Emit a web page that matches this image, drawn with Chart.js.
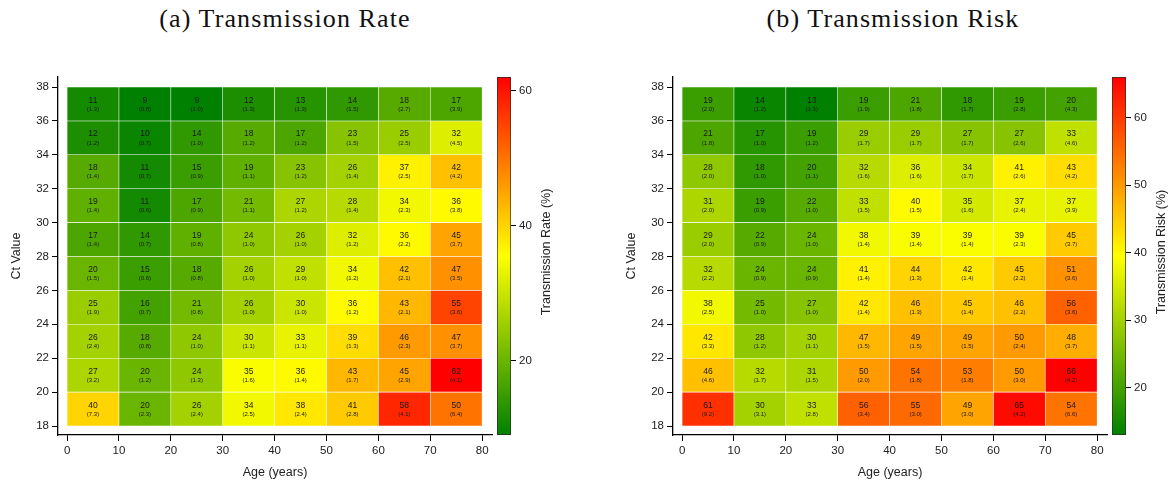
<!DOCTYPE html>
<html>
<head>
<meta charset="utf-8">
<script src="https://cdn.jsdelivr.net/npm/chart.js@4.4.1/dist/chart.umd.min.js"></script>
<style>
  html, body { margin: 0; padding: 0; background: #fff; }
  #wrap { position: relative; width: 1171px; height: 485px; overflow: hidden; background: #fff; }
  canvas { position: absolute; }
  .ttl { position: absolute; top: 4px; font-family: "Liberation Serif", "Times New Roman", serif; font-size: 26px; letter-spacing: 1.1px; color: #111; white-space: nowrap; transform: translateX(-50%); }
</style>
</head>
<body>
<div id="wrap">
  <div class="ttl" id="t1" style="left:285px">(a) Transmission Rate</div>
  <div class="ttl" id="t2" style="left:893px">(b) Transmission Risk</div>
  <canvas id="h1" width="495" height="485" style="left:0px;top:0px;width:495px;height:485px"></canvas>
  <canvas id="c1" width="80" height="485" style="left:490px;top:0px;width:80px;height:485px"></canvas>
  <canvas id="h2" width="495" height="485" style="left:615px;top:0px;width:495px;height:485px"></canvas>
  <canvas id="c2" width="66" height="485" style="left:1105px;top:0px;width:66px;height:485px"></canvas>
</div>
<script>
// ---------------- DATA ----------------
const ageEdges = [0, 10, 20, 30, 40, 50, 60, 70, 80];
const ctRowsTopToBottom = [36, 34, 32, 30, 28, 26, 24, 22, 20, 18]; // lower edge of each Ct bin (bin width 2)
const xTickValues = [0, 10, 20, 30, 40, 50, 60, 70, 80];
const yTickValues = [18, 20, 22, 24, 26, 28, 30, 32, 34, 36, 38];

// Transmission Rate (%), rows from Ct 36-38 (top) to 18-20 (bottom), columns age 0-10 ... 70-80
const rateValues = [
  [11, 9, 9, 12, 13, 14, 18, 17],
  [12, 10, 14, 18, 17, 23, 25, 32],
  [18, 11, 15, 19, 23, 26, 37, 42],
  [19, 11, 17, 21, 27, 28, 34, 36],
  [17, 14, 19, 24, 26, 32, 36, 45],
  [20, 15, 18, 26, 29, 34, 42, 47],
  [25, 16, 21, 26, 30, 36, 43, 55],
  [26, 18, 24, 30, 33, 39, 46, 47],
  [27, 20, 24, 35, 36, 43, 45, 62],
  [40, 20, 26, 34, 38, 41, 58, 50]
];
const rateSE = [
  ['1.3', '0.8', '1.0', '1.3', '1.3', '1.5', '2.7', '3.9'],
  ['1.2', '0.7', '1.0', '1.2', '1.2', '1.5', '2.5', '4.5'],
  ['1.4', '0.7', '0.9', '1.1', '1.2', '1.4', '2.5', '4.2'],
  ['1.4', '0.6', '0.9', '1.1', '1.2', '1.4', '2.3', '3.8'],
  ['1.4', '0.7', '0.8', '1.0', '1.0', '1.2', '2.2', '3.7'],
  ['1.5', '0.6', '0.8', '1.0', '1.0', '1.2', '2.1', '3.5'],
  ['1.9', '0.7', '0.8', '1.0', '1.0', '1.2', '2.1', '3.6'],
  ['2.4', '0.8', '1.0', '1.1', '1.1', '1.3', '2.3', '3.7'],
  ['3.2', '1.2', '1.3', '1.6', '1.4', '1.7', '2.9', '4.1'],
  ['7.3', '2.3', '2.4', '2.5', '2.4', '2.8', '4.1', '6.4']
];

// Transmission Risk (%)
const riskValues = [
  [19, 14, 13, 19, 21, 18, 19, 20],
  [21, 17, 19, 29, 29, 27, 27, 33],
  [28, 18, 20, 32, 36, 34, 41, 43],
  [31, 19, 22, 33, 40, 35, 37, 37],
  [29, 22, 24, 38, 39, 39, 39, 45],
  [32, 24, 24, 41, 44, 42, 45, 51],
  [38, 25, 27, 42, 46, 45, 46, 56],
  [42, 28, 30, 47, 49, 49, 50, 48],
  [46, 32, 31, 50, 54, 53, 50, 66],
  [61, 30, 33, 56, 55, 49, 65, 54]
];
const riskSE = [
  ['2.0', '1.2', '1.3', '1.9', '1.8', '1.7', '2.8', '4.3'],
  ['1.8', '1.0', '1.2', '1.7', '1.7', '1.7', '2.6', '4.6'],
  ['2.0', '1.0', '1.1', '1.6', '1.6', '1.7', '2.6', '4.2'],
  ['2.0', '0.9', '1.0', '1.5', '1.5', '1.6', '2.4', '3.9'],
  ['2.0', '0.9', '1.0', '1.4', '1.4', '1.4', '2.3', '3.7'],
  ['2.2', '0.9', '0.9', '1.4', '1.3', '1.4', '2.2', '3.6'],
  ['2.5', '1.0', '1.0', '1.4', '1.3', '1.4', '2.2', '3.6'],
  ['3.3', '1.2', '1.1', '1.5', '1.5', '1.5', '2.4', '3.7'],
  ['4.6', '1.7', '1.5', '2.0', '1.8', '1.8', '3.0', '4.2'],
  ['9.2', '3.1', '2.8', '3.4', '3.0', '3.0', '4.2', '6.6']
];

const rateColorTicks = [20, 40, 60];
const riskColorTicks = [20, 30, 40, 50, 60];

// ---------------- STYLE ----------------
const FONT = '"Liberation Sans", Arial, Helvetica, sans-serif';
const cmapStops = [[0, [0, 128, 0]], [0.5, [255, 255, 0]], [1, [255, 0, 0]]];
Chart.defaults.font.family = FONT;
Chart.defaults.color = '#222';

function cmap(t) {
  t = Math.max(0, Math.min(1, t));
  for (let i = 1; i < cmapStops.length; i++) {
    const [t1, c1] = cmapStops[i];
    const [t0, c0] = cmapStops[i - 1];
    if (t <= t1) {
      const f = (t - t0) / (t1 - t0);
      const c = c0.map((v, k) => Math.round(v + (c1[k] - v) * f));
      return `rgb(${c[0]},${c[1]},${c[2]})`;
    }
  }
  return 'rgb(255,0,0)';
}

const cellLabelPlugin = {
  id: 'cellLabels',
  afterDatasetsDraw(chart) {
    const ctx = chart.ctx;
    const meta = chart.getDatasetMeta(0);
    const ds = chart.data.datasets[0];
    ctx.save();
    ctx.fillStyle = '#1a1a1a';
    ctx.textAlign = 'center';
    ctx.textBaseline = 'middle';
    meta.data.forEach((el, i) => {
      const p = ds.data[i];
      const cy = (el.y + el.base) / 2;
      ctx.font = '8.5px ' + FONT;
      ctx.fillText(String(p.v), el.x, cy - 3.7);
      ctx.font = '6px ' + FONT;
      ctx.fillText('(' + p.se + ')', el.x, cy + 5);
    });
    ctx.restore();
  }
};

function buildHeat(canvasId, values, se) {
  const flat = values.flat();
  const vmin = Math.min(...flat), vmax = Math.max(...flat);
  const points = [];
  ctRowsTopToBottom.forEach((lo, r) => {
    for (let c = 0; c < ageEdges.length - 1; c++) {
      points.push({ x: (ageEdges[c] + ageEdges[c + 1]) / 2, y: [lo, lo + 2], v: values[r][c], se: se[r][c] });
    }
  });
  new Chart(document.getElementById(canvasId), {
    type: 'bar',
    data: {
      datasets: [{
        data: points,
        backgroundColor: points.map(p => cmap((p.v - vmin) / (vmax - vmin))),
        borderColor: 'rgba(255,255,255,0.4)',
        borderWidth: 0.6,
        borderSkipped: false,
        barPercentage: 1,
        categoryPercentage: 1
      }]
    },
    options: {
      responsive: false,
      animation: false,
      events: [],
      layout: { padding: { top: 77, right: 3, left: 0, bottom: 0 } },
      plugins: { legend: { display: false }, tooltip: { enabled: false } },
      scales: {
        x: {
          type: 'linear', min: -1.75, max: 81.9, offset: false,
          afterBuildTicks: s => { s.ticks = xTickValues.map(v => ({ value: v })); },
          afterFit: s => { s.height = 50; },
          grid: { display: true, offset: false, drawOnChartArea: false, drawTicks: true, tickLength: 6, color: '#000', lineWidth: 1 },
          border: { display: true, color: '#000', width: 1.3 },
          ticks: { font: { size: 11.5 }, color: '#222', padding: 3, maxRotation: 0, autoSkip: false },
          title: { display: true, text: 'Age (years)', font: { size: 12.5 }, color: '#222', padding: { top: 0, bottom: 4.5 } }
        },
        y: {
          type: 'linear', min: 17.47, max: 38.59,
          afterBuildTicks: s => { s.ticks = yTickValues.map(v => ({ value: v })); },
          afterFit: s => { s.width = 58; },
          grid: { display: true, drawOnChartArea: false, drawTicks: true, tickLength: 6, color: '#000', lineWidth: 1 },
          border: { display: true, color: '#000', width: 1.3 },
          ticks: { font: { size: 11.5 }, color: '#222', padding: 3, autoSkip: false },
          title: { display: true, text: 'Ct Value', font: { size: 12.5 }, color: '#222', padding: { top: 9.5, bottom: 0 } }
        }
      }
    },
    plugins: [cellLabelPlugin]
  });
  return [vmin, vmax];
}

function buildColorbar(canvasId, range, tickVals, title, cw) {
  const [vmin, vmax] = range;
  const titlePlugin = {
    id: 'cbTitle',
    afterDraw(chart) {
      const ctx = chart.ctx;
      ctx.save();
      ctx.translate(57, 252);
      ctx.rotate(-Math.PI / 2);
      ctx.font = '12.5px ' + FONT;
      ctx.fillStyle = '#222';
      ctx.textAlign = 'center';
      ctx.textBaseline = 'middle';
      ctx.fillText(title, 0, 0);
      ctx.restore();
    }
  };
  new Chart(document.getElementById(canvasId), {
    type: 'bar',
    data: {
      labels: [''],
      datasets: [{
        data: [[vmin, vmax]],
        backgroundColor: (ctx) => {
          const ca = ctx.chart.chartArea;
          if (!ca) return 'rgba(0,0,0,0)';
          const g = ctx.chart.ctx.createLinearGradient(0, ca.bottom, 0, ca.top);
          cmapStops.forEach(([t, c]) => g.addColorStop(t, `rgb(${c[0]},${c[1]},${c[2]})`));
          return g;
        },
        borderColor: '#2a2a2a',
        borderWidth: 1,
        borderSkipped: false,
        barPercentage: 1,
        categoryPercentage: 1
      }]
    },
    options: {
      responsive: false,
      animation: false,
      events: [],
      layout: { padding: { top: 77, left: 7, right: 0, bottom: 50 } },
      plugins: { legend: { display: false }, tooltip: { enabled: false } },
      scales: {
        x: { display: false },
        y: {
          type: 'linear', position: 'right', min: vmin, max: vmax,
          afterBuildTicks: s => { s.ticks = tickVals.map(v => ({ value: v })); },
          afterFit: s => { s.width = cw - 21; },
          grid: { display: true, drawOnChartArea: false, drawTicks: true, tickLength: 5, color: '#000', lineWidth: 1 },
          border: { display: false },
          ticks: { font: { size: 11.5 }, color: '#222', padding: 3, autoSkip: false }
        }
      }
    },
    plugins: [titlePlugin]
  });
}

const r1 = buildHeat('h1', rateValues, rateSE);
buildColorbar('c1', r1, rateColorTicks, 'Transmission Rate (%)', 80);
const r2 = buildHeat('h2', riskValues, riskSE);
buildColorbar('c2', r2, riskColorTicks, 'Transmission Risk (%)', 66);
</script>
</body>
</html>
